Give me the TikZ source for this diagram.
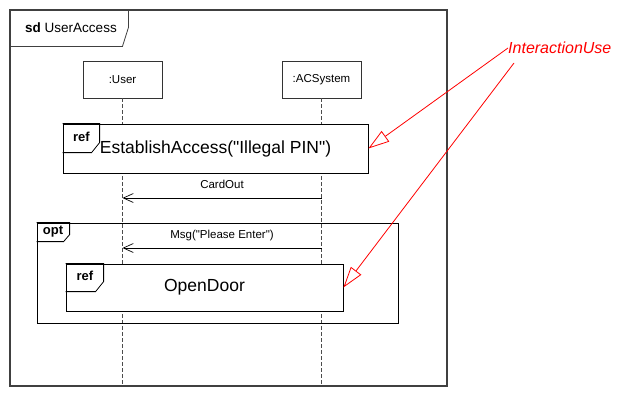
\documentclass[tikz,border=0pt]{standalone}
\usepackage{fontspec}
\setmainfont{Liberation Sans}[Ligatures=TeXOff]
\usetikzlibrary{arrows.meta,positioning}
\tikzstyle{fragment} = [rectangle, draw=black, line width=0.8pt, inner sep=0pt]
\tikzstyle{lifebox} = [rectangle, draw=black!80, fill=white, line width=0.8pt, minimum width=79pt, minimum height=37pt, font=\fontsize{11.5}{13}\selectfont]
\tikzstyle{refbox} = [fragment, fill=white, font=\fontsize{17.5}{20}\selectfont]
\tikzstyle{tabline} = [draw=black, line width=0.8pt]
\tikzstyle{tablabel} = [inner sep=0pt, font=\fontsize{13}{15}\selectfont\bfseries]
\tikzstyle{lifeline} = [draw=black!70, line width=0.8pt, dash pattern=on 4pt off 2pt]
\tikzstyle{msg} = [line width=0.7pt, -{Straight Barb[length=10pt,width=9pt,line width=0.7pt]}]
\tikzstyle{msglabel} = [inner sep=0pt, font=\fontsize{11.5}{13}\selectfont]
\tikzstyle{note} = [draw=red, line width=0.8pt, -{Triangle[open,length=21pt,width=13pt,fill=white]}]

\begin{document}
\begin{tikzpicture}[x=1pt, y=-1pt]
                        \useasboundingbox (0,0) rectangle (623,401);
                        \node (sd) [fragment, draw=black!75, line width=1.1pt, minimum width=437pt, minimum height=376pt] at (228.5,198) {};
                        \draw[tabline, draw=black!75] (sd.north west) -- ++(119,0) -- ++(0,18) -- ++(-6,19) -- ++(-113,0);
                        \node (sdname) [inner sep=0pt, font=\fontsize{13.5}{15}\selectfont] at (71,28) {\textbf{sd} UserAccess};
                        \node (user) [lifebox] at (122.5,79.5) {:User};
                        \node (acs) [lifebox] at (321.5,79.5) {:ACSystem};
                        \coordinate (userend) at (122.5,386);
                        \coordinate (acsend) at (321.5,386);
                        \draw[lifeline] (user) -- (userend);
                        \draw[lifeline] (acs) -- (acsend);
                        \node (ref1) [refbox, minimum width=305pt, minimum height=49pt] at (215.5,148.5) {EstablishAccess("Illegal PIN")};
                        \draw[tabline] (ref1.north west) -- ++(37,0) -- ++(0,19) -- ++(-8,10) -- ++(-29,0);
                        \node (ref1tab) [tablabel] at (81.5,137) {ref};
                        \coordinate (card1) at (321.5,198);
                        \coordinate (card2) at (122.5,198);
                        \draw[msg] (card1) -- node[msglabel, above=9pt] {CardOut} (card2);
                        \node (opt) [fragment, minimum width=361pt, minimum height=100pt] at (217.5,273) {};
                        \draw[tabline] (opt.north west) -- ++(33,0) -- ++(0,12) -- ++(-6,7) -- ++(-27,0);
                        \node (opttab) [tablabel] at (53,232) {opt};
                        \coordinate (msg1) at (321.5,248);
                        \coordinate (msg2) at (122.5,248);
                        \draw[msg] (msg1) -- node[msglabel, above=7pt] {Msg("Please Enter")} (msg2);
                        \node (ref2) [refbox, minimum width=277pt, minimum height=47pt] at (204.5,287.5) {OpenDoor};
                        \draw[tabline] (ref2.north west) -- ++(38,0) -- ++(0,18) -- ++(-8,10) -- ++(-30,0);
                        \node (ref2tab) [tablabel] at (85,276) {ref};
                        \node (iu) [inner sep=0pt, anchor=west, text=red, font=\fontsize{16}{18}\selectfont\itshape] at (508,48) {InteractionUse};
                        \coordinate (iu2) at (514,63);
                        \draw[note] (iu.west) -- (ref1.east);
                        \draw[note] (iu2) -- (ref2.east);
                    \end{tikzpicture}
\end{document}
